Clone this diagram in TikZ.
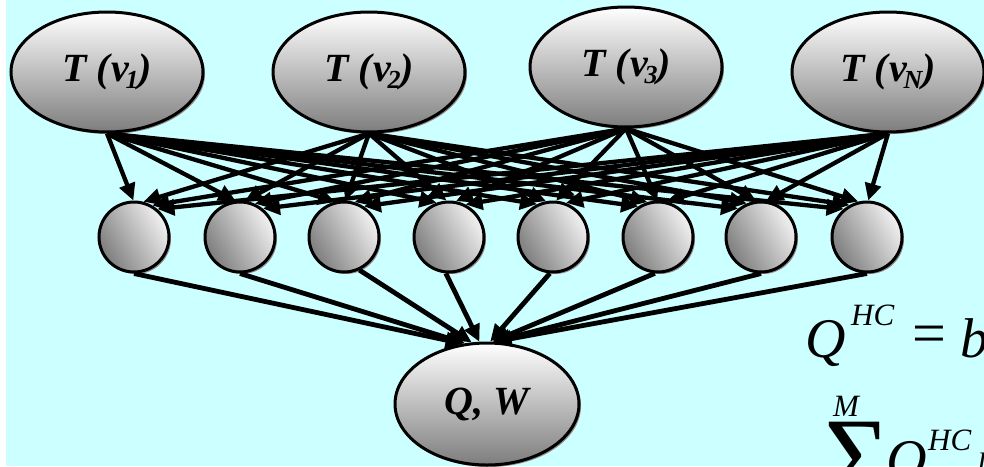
\documentclass[tikz,border=0pt]{standalone}
\usepackage{fontspec}
\setmainfont{Liberation Serif}
\usetikzlibrary{shapes.geometric,arrows.meta,shadows}
\definecolor{bgcyan}{RGB}{204,255,255}
\definecolor{shadowcol}{RGB}{150,135,135}
\definecolor{darkgr}{RGB}{125,125,125}
\definecolor{lightgr}{RGB}{242,242,242}
\newcommand\Tnu[1]{T (\hspace{2pt}ν\hspace{-4pt}\raisebox{-7pt}{\fontsize{26}{26}\selectfont #1})}
\tikzset{
  topell/.style={ellipse, draw=black, line width=3pt, minimum width=192pt, minimum height=120pt,
    inner sep=0pt, top color=white, bottom color=darkgr,
    font=\fontsize{40}{40}\selectfont\bfseries\itshape,
    drop shadow={shadow xshift=2pt, shadow yshift=-2pt, fill=shadowcol, opacity=1}},
  hid/.style={circle, draw=black, line width=3pt, minimum size=70pt, inner sep=0pt,
    left color=darkgr, right color=lightgr, shading angle=120,
    drop shadow={shadow xshift=2pt, shadow yshift=-2pt, fill=shadowcol, opacity=1}},
  arr/.style={line width=4.3pt, -{Triangle[length=17pt,width=16pt]}},
  arrb/.style={line width=4.8pt, -{Triangle[length=17pt,width=16pt]}},
  big/.style={inner sep=0pt, anchor=base west, font=\fontsize{56}{56}\selectfont\itshape},
  sup/.style={inner sep=0pt, anchor=base west, font=\fontsize{31}{31}\selectfont\itshape},
}
\begin{document}
\begin{tikzpicture}[x=1pt,y=-1pt]
\useasboundingbox (0,0) rectangle (984,466);
\clip (0,0) rectangle (984,466);
\fill[white] (0,0) rectangle (984,466);
\fill[bgcyan] (6,0) rectangle (984,466);

% top ellipses
\node[topell] (t1) at (107,72) {\Tnu{1}};
\node[topell] (t2) at (369,72) {\Tnu{2}};
\node[topell] (t3) at (626,67) {\Tnu{3}};
\node[topell] (t4) at (888,72) {\Tnu{N}};

% hidden circles
\foreach \j/\cx in {1/134,2/240,3/344,4/449,5/553,6/658,7/761,8/867}
  \node[hid] (c\j) at (\cx,237) {};

% output ellipse
\node[topell, minimum width=184pt, minimum height=122pt] (q) at (487,404) {Q, W};

% arrows top -> hidden
\foreach \i/\tx in {1/107,2/369,3/626,4/888}{
  \foreach \j/\cx in {1/134,2/240,3/344,4/449,5/553,6/658,7/761,8/867}{
    \pgfmathtruncatemacro\ang{max(50,min(130,90-0.06*(\tx-\cx)))}
    \draw[arr] (t\i.south) -- (c\j.\ang);
  }
}

% arrows hidden -> output
\foreach \j/\s/\a in {1/-90/112,2/-90/110,3/-65/104,4/-95/97,5/-95/87,6/-95/85,7/-90/84,8/-90/83}
  \draw[arrb] (c\j.\s) -- (q.\a);

% formula (cut at the right edge)
\node[big] (f1) at (805,357) {Q};
\node[sup] (f2) at (851,325) {HC};
\node[big, font=\fontsize{60}{60}\selectfont] (f3) at (912,353) {=};
\node[big] (f4) at (960,357) {b};
\node[sup] (f5) at (833,416) {M};
\node[inner sep=0pt, anchor=base west] (f6) at (824,495) {\fontsize{112}{112}\selectfont Σ};
\node[big] (f7) at (886,478) {Q};
\node[sup] (f8) at (928,450) {HC};
\node[sup] (f9) at (977,474) {l};
\end{tikzpicture}
\end{document}
